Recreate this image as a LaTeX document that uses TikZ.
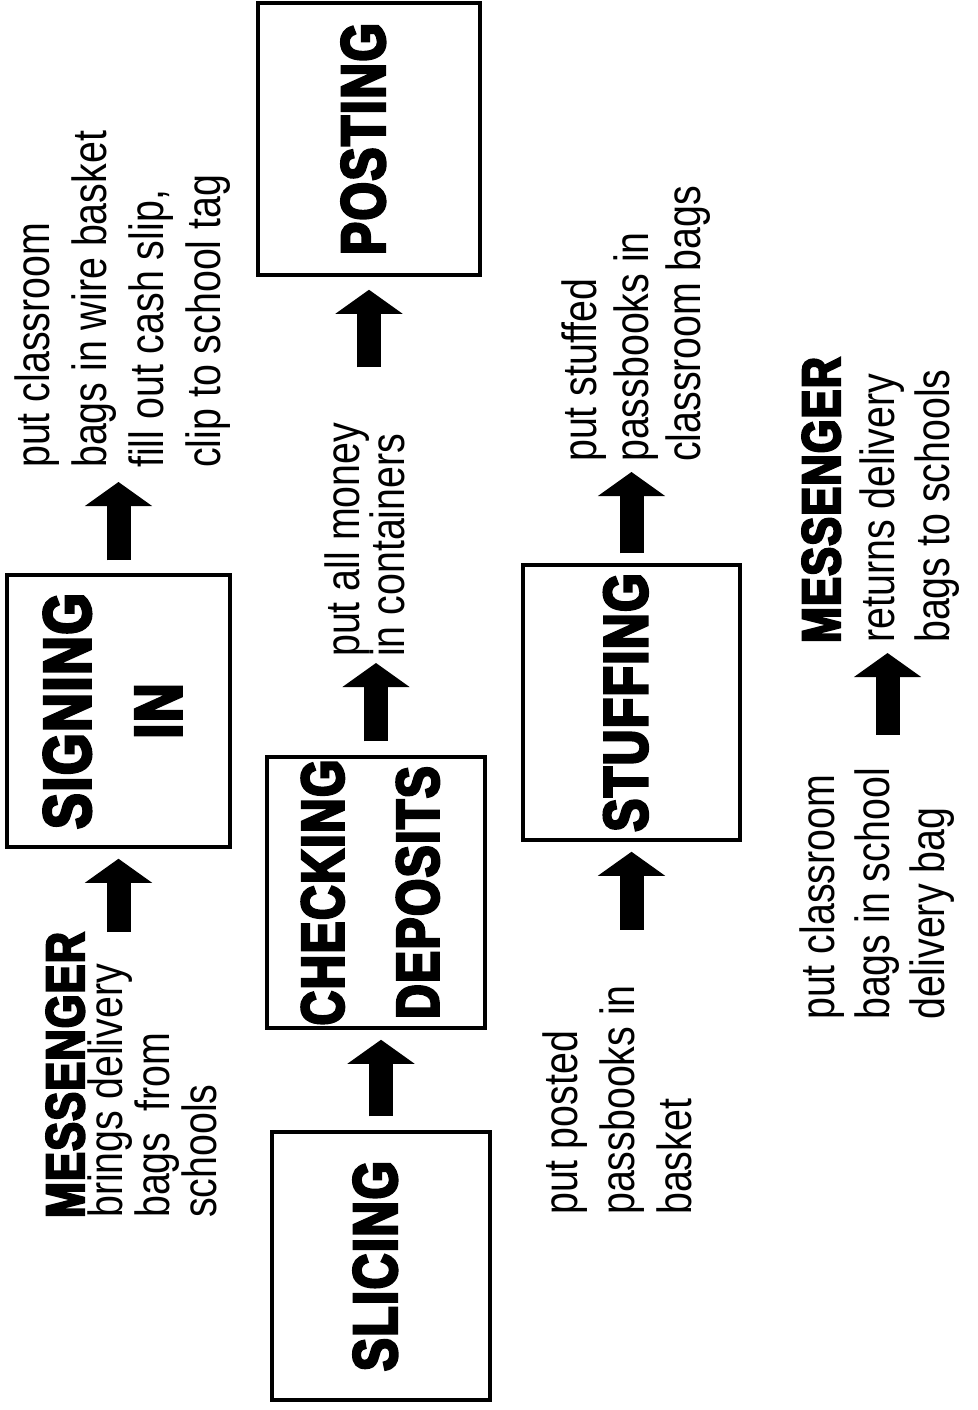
\documentclass[tikz,border=0pt]{standalone}
\usepackage{fontspec}
\newfontfamily\handfont{Liberation Sans}[FakeStretch=0.82]
\newfontfamily\heavyfont{Liberation Sans}[FakeStretch=0.79, LetterSpace=3, BoldFeatures={FakeBold=4.5}]
\usetikzlibrary{arrows.meta}

\begin{document}
\begin{tikzpicture}[x=1pt, y=-1pt,
    > = {Triangle[width=66pt, length=24pt]},
    flow/.style={->, line width=24pt, shorten <=10pt, shorten >=10pt},
    stage/.style={draw, line width=3.5pt, rotate=90, align=center,
        inner sep=0pt, text depth=12pt,
        font=\heavyfont\bfseries\fontsize{62}{95}\selectfont},
    note/.style={rotate=90, align=left, inner sep=0pt, anchor=north west,
        font=\handfont\fontsize{48}{57}\selectfont}
]
    \fill[white, use as bounding box] (0,0) rectangle (977,1410);

    % stages
    \node [stage,
        minimum width=272pt, minimum height=223pt,
        font=\heavyfont\bfseries\fontsize{67}{91}\selectfont
    ] (signing) at (118.5,711) {SIGNING\\IN};

    \node [stage,
        minimum width=268pt, minimum height=218pt
    ] (slicing) at (381,1266) {SLICING};

    \node [stage,
        minimum width=271pt, minimum height=218pt,
        font=\heavyfont\bfseries\fontsize{60}{95}\selectfont
    ] (checking) at (376,892.5) {CHECKING\\DEPOSITS};

    \node [stage,
        minimum width=272pt, minimum height=222pt
    ] (posting) at (369,139) {POSTING};

    \node [stage,
        minimum width=275pt, minimum height=217pt
    ] (stuffing) at (631.5,702.5) {STUFFING};

    % notes
    \node [note] (putbags) at (15,468)
        {put classroom\\bags in wire basket\\fill out cash slip,\\clip to school tag};

    \node [note, font=\handfont\fontsize{48}{47}\selectfont] (bringer) at (46,1218)
        {{\heavyfont\bfseries\fontsize{54}{54}\selectfont MESSENGER}\\[-8pt]
         brings delivery\\bags\hspace{10pt} from\\schools};

    \node [note, font=\handfont\fontsize{48}{45}\selectfont] (putmoney) at (325,657)
        {put all money\\in containers};

    \node [note] (putposted) at (543,1215)
        {put posted\\passbooks in\\basket};

    \node [note, font=\handfont\fontsize{48}{52}\selectfont] (putstuffed) at (562,462)
        {put stuffed\\passbooks in\\classroom bags};

    \node [note, font=\handfont\fontsize{48}{55}\selectfont] (putschool) at (800,1020)
        {put classroom\\bags in school\\delivery bag};

    \node [note, font=\handfont\fontsize{48}{55}\selectfont] (returner) at (802,643)
        {{\heavyfont\bfseries\fontsize{54}{54}\selectfont MESSENGER}\\
         returns delivery\\bags to schools};

    % flow arrows
    \draw [flow, shorten <=0pt] (bringer.east -| signing) -- (signing.west);
    \draw [flow, shorten <=13pt, shorten >=14pt] (signing.east) -- (signing.east |- putbags.west);
    \draw [flow, shorten <=14pt] (slicing.east) -- (slicing.east |- checking.west);
    \draw [flow, shorten <=14pt, shorten >=6pt] (checking.east) -- (checking.east |- putmoney.west);
    \draw [flow, shorten <=55pt, shorten >=13pt] (putmoney.east -| posting) -- (posting.west);
    \draw [flow, shorten <=55pt] (putposted.east -| stuffing) -- (stuffing.west);
    \draw [flow] (stuffing.east) -- (stuffing.east |- putstuffed.west);
    \draw [flow, shorten <=33pt] ([xshift=10pt]putschool.east) -- ([xshift=10pt]putschool.east |- returner.west);
\end{tikzpicture}
\end{document}
